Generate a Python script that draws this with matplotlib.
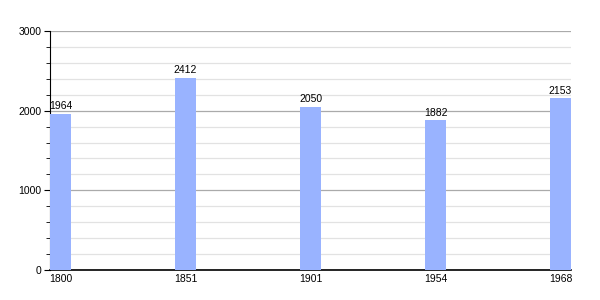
import matplotlib
matplotlib.use("Agg")
import matplotlib.pyplot as plt
from matplotlib.ticker import MultipleLocator

years = ["1800", "1851", "1901", "1954", "1968"]
population = [1964, 2412, 2050, 1882, 2153]

plt.rcParams['font.family'] = ['Liberation Sans', 'DejaVu Sans']

fig = plt.figure(figsize=(6, 3), dpi=100)
ax = fig.add_axes([50/600, 30/300, 521/600, 239/300])

w = 0.168
pos = list(range(len(years)))
ax.bar(pos, population, width=w, align='edge', color='#99b3ff', zorder=3)
for p, v in zip(pos, population):
    ax.text(p + w/2, v + 30, str(v), ha='center', va='bottom', fontsize=7.5, color='black', zorder=4)

ax.set_xlim(0, 4 + w)
ax.set_ylim(0, 3000)
ax.set_xticks([p + w/2 for p in pos])
ax.set_xticklabels(years, fontsize=7.5)
ax.tick_params(axis='x', length=0, pad=3)

ax.yaxis.set_major_locator(MultipleLocator(1000))
ax.yaxis.set_minor_locator(MultipleLocator(200))
ax.tick_params(axis='y', which='major', length=4, labelsize=7.5, pad=2, color='black')
ax.tick_params(axis='y', which='minor', length=3, color='black')
ax.grid(axis='y', which='major', color='#aaaaaa', linewidth=0.9, zorder=1)
ax.grid(axis='y', which='minor', color='#e2e2e2', linewidth=0.9, zorder=1)

for s in ['top', 'right']:
    ax.spines[s].set_visible(False)
ax.spines['left'].set_color('black')
ax.spines['bottom'].set_color('black')
ax.spines['bottom'].set_linewidth(1.2)

fig.savefig("out.png", dpi=100)
